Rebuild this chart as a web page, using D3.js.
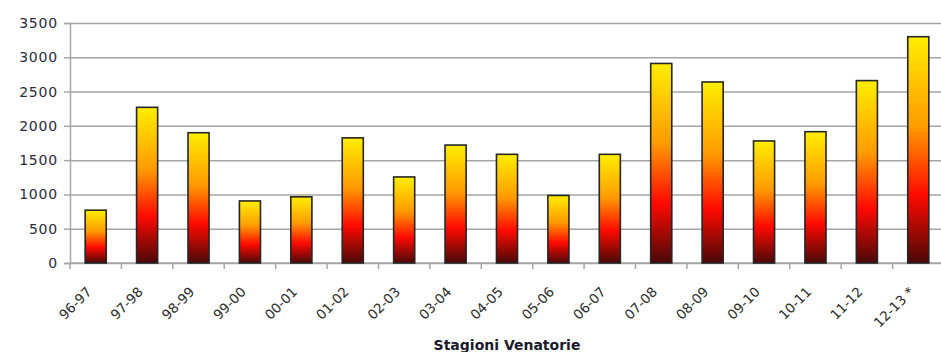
<!DOCTYPE html>
<html>
<head>
<meta charset="utf-8">
<script src="https://cdn.jsdelivr.net/npm/d3@7"></script>
<style>
  body { margin: 0; background: #fff; }
  svg { display: block; }
</style>
</head>
<body>
<div id="chart"></div>
<script>
// data
seasons = ["96-97", "97-98", "98-99", "99-00", "00-01", "01-02", "02-03", "03-04", "04-05",
           "05-06", "06-07", "07-08", "08-09", "09-10", "10-11", "11-12", "12-13 *"]
values = [770, 2270, 1900, 905, 965, 1825, 1255, 1720, 1585,
          985, 1585, 2910, 2640, 1780, 1915, 2660, 3300]
yTicks = [0, 500, 1000, 1500, 2000, 2500, 3000, 3500]
axisTitle = "Stagioni Venatorie"

// dimensions
width = 941
height = 352
margin = ({top: 23, bottom: 89, left: 70, right: -3})

const svg = d3.select("#chart").append("svg")
    .attr("width", width)
    .attr("height", height)

// gradient for bars (yellow top -> dark red bottom)
const grad = svg.append("defs").append("linearGradient")
    .attr("id", "barGrad")
    .attr("x1", "0%").attr("y1", "0%")
    .attr("x2", "0%").attr("y2", "100%")
grad.append("stop").attr("offset", "0%").attr("stop-color", "#ffee00")
grad.append("stop").attr("offset", "40%").attr("stop-color", "#ff9a00")
grad.append("stop").attr("offset", "70%").attr("stop-color", "#ff0a00")
grad.append("stop").attr("offset", "100%").attr("stop-color", "#4a0808")

x = d3.scaleBand()
    .domain(seasons)
    .range([margin.left, width - margin.right])
    .paddingInner(0.59)
    .paddingOuter(0.295)

y = d3.scaleLinear()
    .domain([0, 3500])
    .range([height - margin.bottom, margin.top])

// gridlines + y axis
svg.append("g")
    .attr("transform", `translate(${margin.left},0)`)
    .call(d3.axisLeft(y).tickValues(yTicks).tickSize(6).tickPadding(6).tickFormat(d3.format("d")))
    .call(g => g.select(".domain").attr("stroke", "#a6a6a6").attr("stroke-width", 1.5))
    .call(g => g.selectAll(".tick line").attr("stroke", "#a6a6a6").attr("stroke-width", 1.5))
    .call(g => g.selectAll(".tick line").clone()
        .attr("x1", 0).attr("x2", width - margin.left + 5))
    .call(g => g.selectAll(".tick text")
        .attr("fill", "#2b2b3b")
        .style("font-family", "DejaVu Sans, sans-serif")
        .style("font-size", "14px")
        .style("letter-spacing", "0.8px"))

// x axis
const xAxis = svg.append("g")
    .attr("transform", `translate(0,${y(0)})`)
    .call(d3.axisBottom(x).tickSize(0).tickPadding(0))
xAxis.select(".domain").remove()
xAxis.selectAll(".tick text")
    .attr("text-anchor", "end")
    .attr("transform", "translate(-10,23) rotate(-45)")
    .attr("dy", "0.71em")
    .attr("fill", "#2b2b2b")
    .style("font-family", "DejaVu Sans, sans-serif")
    .style("font-size", "13.5px")

// boundary ticks between categories
const step = x.step()
svg.append("g").selectAll("line")
    .data(d3.range(seasons.length + 1))
    .join("line")
    .attr("x1", i => margin.left + i * step)
    .attr("x2", i => margin.left + i * step)
    .attr("y1", y(0))
    .attr("y2", y(0) + 6)
    .attr("stroke", "#a6a6a6")
    .attr("stroke-width", 1.5)
svg.append("line")
    .attr("x1", margin.left).attr("x2", width)
    .attr("y1", y(0)).attr("y2", y(0))
    .attr("stroke", "#a6a6a6").attr("stroke-width", 1.5)

// bars
svg.append("g").selectAll("rect")
    .data(seasons.map((s, i) => ({season: s, value: values[i]})))
    .join("rect")
    .attr("x", d => x(d.season))
    .attr("width", x.bandwidth())
    .attr("y", d => y(d.value))
    .attr("height", d => y(0) - y(d.value))
    .attr("fill", "url(#barGrad)")
    .attr("stroke", "#262626")
    .attr("stroke-width", 1.6)

// axis title
svg.append("text")
    .attr("x", (margin.left + width - margin.right) / 2)
    .attr("y", 350)
    .attr("text-anchor", "middle")
    .attr("fill", "#1a1a2a")
    .attr("font-weight", "bold")
    .style("font-family", "DejaVu Sans, sans-serif")
    .style("font-size", "14px")
    .text(axisTitle)
</script>
</body>
</html>
